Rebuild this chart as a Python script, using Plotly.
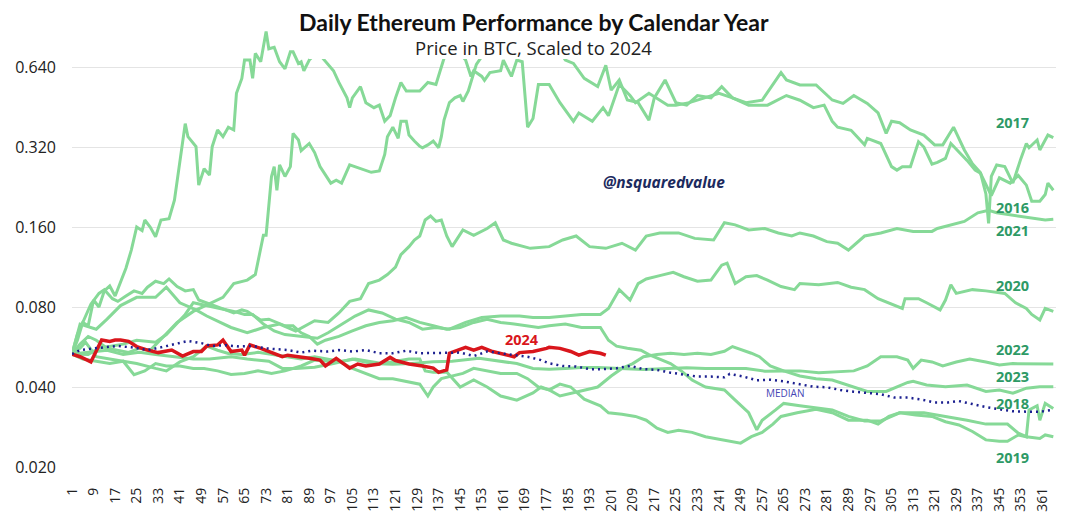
import math
import plotly.graph_objects as go

# ---------------- data (day of year, ETH/BTC scaled to 2024 start) ----------------
days_2016 = [1,3,5,7,9,11,13,15,17,19,21,23,25,27,28,30,32,34,37,39,41,43,44,47,48,50,52,53,55,57,59,61,62,64,65,67,68,69,71,73,74,76,78,80,82,83,85,86,87,89,92,95,98,100,103,104,105,108,110,113,115,117,119,121,123,125,128,130,133,136,138,139,143,147,149,150,153,154,156,160,161,164,166,168,170,172,174,178,182,187,189,194,198,200,204,208,210,215,222,225,230,236,241,246,252,259,266,271,276,280,283,285,290,295,296,301,305,307,309,312,315,317,320,322,325,327,333,336,338,342,345,349,352,355,357,360,362,363,365]
vals_2016 = [0.0532,0.063,0.070,0.068,0.085,0.080,0.092,0.096,0.088,0.100,0.112,0.131,0.160,0.155,0.170,0.160,0.147,0.170,0.172,0.202,0.286,0.392,0.350,0.321,0.230,0.265,0.251,0.321,0.371,0.350,0.380,0.371,0.510,0.580,0.680,0.680,0.580,0.720,0.670,0.870,0.750,0.760,0.670,0.630,0.730,0.730,0.660,0.670,0.620,0.680,0.730,0.670,0.620,0.560,0.490,0.450,0.490,0.540,0.470,0.450,0.460,0.400,0.420,0.490,0.560,0.520,0.520,0.520,0.560,0.550,0.640,0.690,0.760,0.680,0.590,0.620,0.590,0.570,0.610,0.620,0.680,0.590,0.680,0.670,0.380,0.410,0.550,0.550,0.470,0.400,0.430,0.400,0.450,0.420,0.550,0.500,0.470,0.510,0.460,0.460,0.470,0.490,0.510,0.490,0.460,0.460,0.500,0.480,0.450,0.460,0.400,0.380,0.370,0.326,0.345,0.330,0.270,0.262,0.270,0.270,0.335,0.320,0.276,0.280,0.290,0.330,0.285,0.262,0.255,0.210,0.245,0.234,0.250,0.230,0.200,0.200,0.212,0.234,0.220]

days_2017 = [1,4,7,10,14,18,22,26,30,35,40,46,52,57,61,66,69,71,72,73,74,75,76,77,78,80,82,83,85,86,89,91,93,95,97,99,101,104,107,110,112,115,117,118,120,122,123,125,126,128,130,131,133,135,137,138,139,141,143,145,146,148,149,150,151,155,160,163,170,176,181,184,187,191,196,199,201,204,207,211,215,217,221,225,229,233,238,242,246,251,257,264,266,271,277,283,287,291,296,300,303,305,308,312,317,321,324,328,332,335,338,340,341,342,344,347,350,353,355,356,359,360,363,365]
vals_2017 = [0.0532,0.058,0.062,0.060,0.056,0.055,0.054,0.056,0.055,0.062,0.070,0.077,0.082,0.087,0.098,0.101,0.106,0.131,0.149,0.149,0.195,0.248,0.270,0.220,0.274,0.248,0.270,0.360,0.340,0.310,0.330,0.305,0.270,0.251,0.234,0.240,0.234,0.274,0.267,0.260,0.257,0.260,0.300,0.350,0.380,0.345,0.400,0.400,0.355,0.337,0.322,0.318,0.326,0.337,0.318,0.350,0.404,0.470,0.490,0.500,0.475,0.520,0.560,0.610,0.655,0.750,0.850,0.950,0.820,0.800,0.760,0.680,0.660,0.580,0.540,0.650,0.524,0.572,0.481,0.470,0.404,0.490,0.572,0.470,0.460,0.500,0.490,0.540,0.490,0.470,0.480,0.610,0.572,0.548,0.548,0.481,0.467,0.500,0.467,0.430,0.360,0.400,0.395,0.371,0.355,0.326,0.326,0.380,0.312,0.277,0.256,0.213,0.165,0.248,0.274,0.270,0.234,0.290,0.330,0.318,0.340,0.312,0.355,0.347]

days_2018 = [1,3,5,8,11,13,16,18,21,24,27,29,32,35,37,40,43,46,48,51,55,58,61,64,66,71,74,77,80,83,86,89,92,95,100,105,110,115,120,125,130,135,140,145,150,155,160,165,170,174,178,184,190,197,200,203,207,212,215,219,223,227,231,236,243,247,252,255,257,262,265,271,277,283,289,295,301,308,317,325,333,340,348,352,355,356,359,360,362,365]
vals_2018 = [0.0532,0.060,0.070,0.082,0.090,0.093,0.086,0.084,0.088,0.092,0.090,0.095,0.100,0.098,0.102,0.0955,0.092,0.093,0.085,0.083,0.080,0.078,0.076,0.078,0.077,0.0715,0.072,0.070,0.068,0.068,0.064,0.062,0.058,0.060,0.062,0.065,0.068,0.070,0.071,0.073,0.070,0.068,0.066,0.067,0.070,0.072,0.070,0.069,0.068,0.067,0.068,0.069,0.067,0.067,0.060,0.057,0.056,0.055,0.053,0.051,0.049,0.046,0.0425,0.040,0.039,0.0357,0.032,0.0276,0.030,0.0328,0.0347,0.034,0.0335,0.0328,0.031,0.0298,0.0298,0.032,0.032,0.031,0.030,0.029,0.029,0.0268,0.026,0.0328,0.034,0.030,0.0347,0.0332]

days_2019 = [1,4,6,10,15,20,25,32,36,41,46,51,55,59,64,70,75,80,86,91,95,100,105,110,115,120,125,130,133,135,138,142,146,150,155,160,166,170,174,178,182,186,191,197,200,205,210,214,218,222,226,231,236,241,246,249,253,257,261,264,270,277,283,289,296,300,304,308,314,320,325,330,335,340,345,348,352,355,360,362,365]
vals_2019 = [0.0532,0.056,0.059,0.052,0.051,0.050,0.049,0.047,0.046,0.0497,0.052,0.057,0.055,0.0535,0.053,0.054,0.053,0.052,0.051,0.052,0.051,0.050,0.047,0.045,0.043,0.043,0.042,0.041,0.037,0.040,0.043,0.044,0.045,0.047,0.046,0.045,0.045,0.043,0.040,0.039,0.041,0.040,0.036,0.034,0.032,0.0316,0.031,0.030,0.028,0.027,0.0275,0.027,0.026,0.0255,0.025,0.0246,0.026,0.027,0.029,0.031,0.032,0.033,0.032,0.030,0.030,0.029,0.031,0.032,0.0314,0.031,0.0296,0.0288,0.0272,0.0253,0.025,0.025,0.0264,0.026,0.0256,0.0264,0.026]

days_2020 = [1,7,11,15,20,25,32,36,39,43,46,51,56,61,65,68,72,76,80,86,92,96,101,106,111,116,121,126,131,136,141,147,153,160,167,172,178,183,190,197,200,204,208,211,214,219,224,228,233,238,242,244,247,251,255,259,264,269,271,278,285,290,295,300,305,309,310,315,318,323,325,327,329,335,340,347,351,355,357,360,362,365]
vals_2020 = [0.0532,0.053,0.056,0.057,0.058,0.060,0.059,0.063,0.068,0.075,0.083,0.081,0.079,0.077,0.075,0.075,0.069,0.065,0.063,0.062,0.061,0.064,0.069,0.074,0.078,0.076,0.072,0.070,0.066,0.067,0.066,0.070,0.073,0.074,0.074,0.073,0.073,0.074,0.075,0.075,0.079,0.093,0.085,0.098,0.102,0.105,0.108,0.104,0.100,0.101,0.115,0.117,0.098,0.104,0.105,0.101,0.0955,0.093,0.098,0.097,0.099,0.095,0.093,0.086,0.082,0.079,0.086,0.086,0.083,0.078,0.085,0.097,0.090,0.093,0.092,0.090,0.083,0.079,0.075,0.0715,0.079,0.077]

days_2021 = [1,4,10,14,19,25,32,36,41,47,51,56,60,66,72,78,84,91,96,100,104,108,111,115,118,121,123,126,128,130,132,134,136,138,140,142,146,150,155,158,161,164,171,178,183,188,193,199,205,210,214,219,226,232,239,243,247,252,258,263,268,271,276,281,285,289,295,301,307,313,320,322,327,332,337,341,344,349,352,357,362,365]
vals_2021 = [0.0532,0.069,0.066,0.072,0.081,0.087,0.087,0.095,0.083,0.078,0.074,0.070,0.067,0.064,0.067,0.069,0.065,0.071,0.070,0.076,0.084,0.086,0.098,0.101,0.106,0.113,0.126,0.135,0.143,0.148,0.170,0.176,0.168,0.170,0.148,0.135,0.156,0.149,0.158,0.166,0.143,0.139,0.133,0.135,0.143,0.148,0.135,0.133,0.139,0.131,0.148,0.152,0.152,0.145,0.143,0.166,0.163,0.156,0.158,0.152,0.148,0.152,0.148,0.141,0.139,0.131,0.148,0.152,0.158,0.154,0.154,0.158,0.163,0.168,0.181,0.185,0.181,0.178,0.176,0.173,0.170,0.171]

days_2022 = [1,5,10,15,20,24,28,32,36,41,46,50,55,60,65,70,75,80,86,91,96,101,106,111,116,121,126,130,132,135,140,145,150,155,160,166,172,175,178,182,187,191,196,201,205,209,213,218,223,228,233,238,243,246,250,253,256,260,265,271,278,283,291,296,301,307,311,313,316,320,324,329,334,340,345,350,358,365]
vals_2022 = [0.0532,0.051,0.050,0.049,0.050,0.0445,0.046,0.049,0.048,0.048,0.047,0.047,0.046,0.0446,0.045,0.046,0.045,0.046,0.048,0.0505,0.050,0.050,0.051,0.050,0.049,0.050,0.051,0.051,0.046,0.0455,0.0456,0.040,0.0425,0.040,0.037,0.0357,0.038,0.040,0.039,0.037,0.038,0.039,0.040,0.044,0.047,0.049,0.052,0.053,0.0536,0.053,0.0536,0.053,0.0545,0.0568,0.055,0.0536,0.052,0.048,0.046,0.046,0.0453,0.0455,0.046,0.048,0.052,0.052,0.0505,0.047,0.0505,0.0497,0.048,0.0497,0.051,0.0497,0.0484,0.049,0.0488,0.0488]

days_2023 = [1,7,14,20,26,32,38,46,52,60,66,74,79,84,91,98,105,112,120,127,135,142,152,160,166,172,178,184,190,196,205,213,222,229,236,244,251,258,265,271,277,283,291,296,303,311,313,318,325,333,340,345,350,355,360,365]
vals_2023 = [0.0532,0.054,0.055,0.053,0.054,0.053,0.052,0.051,0.051,0.052,0.051,0.050,0.047,0.047,0.0475,0.049,0.051,0.049,0.0487,0.049,0.0498,0.050,0.0513,0.050,0.049,0.047,0.0467,0.047,0.0474,0.0474,0.047,0.0466,0.047,0.0473,0.047,0.0469,0.047,0.0459,0.046,0.044,0.043,0.0425,0.040,0.0385,0.0385,0.0416,0.042,0.0407,0.0401,0.0407,0.0385,0.039,0.0379,0.0396,0.0401,0.0401]

days_2024 = [1,4,8,10,12,15,17,19,22,25,29,33,38,42,46,49,51,55,57,60,64,65,67,71,76,79,81,86,89,93,95,99,104,107,110,115,119,121,126,131,135,137,140,141,143,147,150,153,157,162,165,167,172,177,178,182,186,189,193,197,199]
vals_2024 = [0.0532,0.0520,0.0497,0.0551,0.0601,0.0594,0.0601,0.0601,0.0594,0.0568,0.0551,0.0539,0.0551,0.0523,0.0544,0.0544,0.0571,0.0576,0.0601,0.0544,0.0551,0.0527,0.0576,0.0559,0.0536,0.0520,0.0527,0.0516,0.0513,0.0505,0.0480,0.0513,0.0471,0.0488,0.0480,0.0488,0.0517,0.0503,0.0488,0.0480,0.0471,0.0454,0.0464,0.0536,0.0544,0.0564,0.0551,0.0564,0.0544,0.0527,0.0520,0.0539,0.0544,0.0559,0.0564,0.0559,0.0544,0.0527,0.0544,0.0536,0.0527]

days_median = [1,4,9,18,23,29,34,39,44,49,53,58,63,68,73,81,86,90,96,100,105,110,115,120,125,130,135,140,145,150,155,160,165,170,175,178,183,188,193,198,203,208,213,218,223,228,233,238,243,245,250,255,260,265,270,276,281,286,291,296,301,306,311,316,321,326,330,335,340,345,350,355,360,365]
vals_median = [0.0532,0.0551,0.0559,0.0571,0.0564,0.0551,0.0564,0.0581,0.0596,0.0585,0.0571,0.0575,0.0568,0.0571,0.0559,0.0551,0.0539,0.0548,0.0544,0.0551,0.0544,0.0551,0.0536,0.0536,0.0548,0.0536,0.0536,0.0539,0.0539,0.0523,0.0544,0.0536,0.0527,0.0520,0.0505,0.0491,0.0480,0.0478,0.0467,0.0467,0.0471,0.0480,0.0467,0.0464,0.0453,0.0444,0.0438,0.0438,0.0435,0.0448,0.0438,0.0424,0.0426,0.0420,0.0411,0.0401,0.0399,0.0390,0.0384,0.0379,0.0376,0.0365,0.0365,0.0359,0.0350,0.0350,0.0354,0.0345,0.0336,0.0330,0.0324,0.0323,0.0323,0.0328]

past_years = ["2016", "2017", "2018", "2019", "2020", "2021", "2022", "2023"]
past_series = {
    "2016": (days_2016, vals_2016), "2017": (days_2017, vals_2017),
    "2018": (days_2018, vals_2018), "2019": (days_2019, vals_2019),
    "2020": (days_2020, vals_2020), "2021": (days_2021, vals_2021),
    "2022": (days_2022, vals_2022), "2023": (days_2023, vals_2023),
}
# end-label anchors (day, value) for the year labels at the right
label_pos = {
    "2017": (349.7, 0.397), "2016": (349.7, 0.190), "2021": (349.7, 0.155),
    "2020": (349.7, 0.0968), "2022": (349.7, 0.0556), "2023": (349.7, 0.044),
    "2018": (349.7, 0.0348), "2019": (349.7, 0.0218),
}
y_ticks = [0.02, 0.04, 0.08, 0.16, 0.32, 0.64]
y_tick_text = ["0.020", "0.040", "0.080", "0.160", "0.320", "0.640"]
x_ticks = list(range(1, 366, 8))

for k, (d, v) in past_series.items():
    assert len(d) == len(v), (k, len(d), len(v))
assert len(days_2024) == len(vals_2024)
assert len(days_median) == len(vals_median)

# ---------------- figure ----------------
GREEN = "#86d997"
fig = go.Figure()
for yr in past_years:
    d, v = past_series[yr]
    fig.add_trace(go.Scatter(x=d, y=v, mode="lines", name=yr,
                             line=dict(color=GREEN, width=3), hoverinfo="skip"))
fig.add_trace(go.Scatter(x=days_2024, y=vals_2024, mode="lines", name="2024",
                         line=dict(color="#d9161c", width=3.5), hoverinfo="skip"))
fig.add_trace(go.Scatter(x=days_median, y=vals_median, mode="lines", name="MEDIAN",
                         line=dict(color="#1c2090", width=2.5, dash="2px,4px"), hoverinfo="skip"))

L, R, T, B = 72, 12, 20, 47
W, H = 1068, 514
pw, ph = W - L - R, H - T - B

def px(xp):
    return (xp - L) / pw

def py(yp):
    return (H - B - yp) / ph

annotations = []
annotations.append(dict(text="<b>Daily Ethereum Performance by Calendar Year</b>",
                        xref="paper", yref="paper", x=px(534), y=py(22), showarrow=False,
                        xanchor="center", yanchor="middle",
                        font=dict(family="Lato", size=23, color="#111111")))
annotations.append(dict(text="Price in BTC, Scaled to 2024",
                        xref="paper", yref="paper", x=px(533), y=py(48), showarrow=False,
                        xanchor="center", yanchor="middle",
                        font=dict(family="Open Sans", size=18.5, color="#222222")))
annotations.append(dict(text="<b><i>@nsquaredvalue</i></b>",
                        xref="paper", yref="paper", x=px(664), y=py(182), showarrow=False,
                        xanchor="center", yanchor="middle",
                        font=dict(family="Open Sans", size=15.5, color="#1c2b5e")))
for yr, (dx, vy) in label_pos.items():
    annotations.append(dict(text=f"<b>{yr}</b>", x=dx, y=math.log10(vy), xref="x", yref="y",
                            showarrow=False, xanchor="center", yanchor="middle",
                            font=dict(family="Open Sans", size=14.5, color="#2e9a66")))
annotations.append(dict(text="<b>2024</b>", x=167.9, y=math.log10(0.0606), xref="x", yref="y",
                        showarrow=False, xanchor="center", yanchor="middle",
                        font=dict(family="Open Sans", size=14.5, color="#d9161c")))
annotations.append(dict(text="MEDIAN", x=265.5, y=math.log10(0.0379), xref="x", yref="y",
                        showarrow=False, xanchor="center", yanchor="middle",
                        font=dict(family="Open Sans", size=10, color="#4646b4")))

fig.update_layout(
    width=W, height=H,
    margin=dict(l=L, r=R, t=T, b=B, pad=0, autoexpand=False),
    paper_bgcolor="white", plot_bgcolor="white",
    showlegend=False,
    annotations=annotations,
    shapes=[dict(type="rect", xref="paper", yref="paper", layer="above",
                 x0=px(309), x1=px(780), y0=py(59), y1=py(-10),
                 fillcolor="white", line=dict(width=0))],
    xaxis=dict(range=[1, 366], tickmode="array", tickvals=x_ticks,
               ticktext=[str(t) for t in x_ticks], tickangle=-90,
               showgrid=False, zeroline=False, showline=False, ticks="",
               ticklabelstandoff=17, automargin=False,
               tickfont=dict(family="Open Sans", size=14, color="#222222")),
    yaxis=dict(type="log", range=[math.log10(0.02), math.log10(0.962)],
               tickmode="array", tickvals=y_ticks, ticktext=y_tick_text,
               showgrid=True, gridcolor="#e4e4e4", gridwidth=1.3,
               zeroline=False, showline=False, ticks="",
               ticklabelstandoff=15, automargin=False,
               tickfont=dict(family="Open Sans", size=16, color="#222222")),
)

fig.write_html("out.html", config={"displayModeBar": False},
               post_script="document.body.style.margin='0';document.body.style.overflow='hidden';")
